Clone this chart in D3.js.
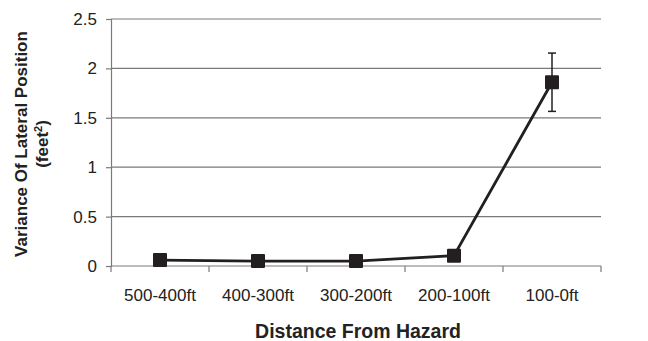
<!DOCTYPE html>
<html>
<head>
<meta charset="utf-8">
<script src="https://d3js.org/d3.v7.min.js"></script>
<style>
  body { margin: 0; background: #fff; font-family: "Liberation Sans", Arial, sans-serif; }
</style>
</head>
<body>
<div id="chart"></div>
<script>
const categories = ["500-400ft", "400-300ft", "300-200ft", "200-100ft", "100-0ft"]
const variance = [0.06, 0.05, 0.05, 0.105, 1.86]
const errors = [0.01, 0.01, 0.01, 0.02, 0.295]
const yTicks = [0, 0.5, 1, 1.5, 2, 2.5]

const w = 648, h = 341
const padding = { top: 19, right: 47, bottom: 75, left: 111 }

const svg = d3.select("#chart").append("svg")
    .attr("width", w)
    .attr("height", h)

const xScale = d3.scaleBand()
    .domain(categories)
    .range([padding.left, w - padding.right])

const yScale = d3.scaleLinear()
    .domain([0, 2.5])
    .range([h - padding.bottom, padding.top])

// gridlines
svg.append("g")
    .selectAll("line")
    .data(yTicks.slice(1))
    .enter()
    .append("line")
    .attr("x1", padding.left)
    .attr("x2", w - padding.right)
    .attr("y1", d => yScale(d))
    .attr("y2", d => yScale(d))
    .attr("stroke", "#7a7a7a")
    .attr("stroke-width", 1.2)

const yAxis = d3.axisLeft(yScale)
    .tickValues(yTicks)
    .tickFormat(d => String(d))
    .tickSize(5)
    .tickPadding(9)

const gy = svg.append("g")
    .attr("transform", "translate(" + padding.left + ",0)")
    .call(yAxis)
gy.select(".domain").attr("stroke", "#7a7a7a").attr("stroke-width", 1.2)
gy.selectAll(".tick line").attr("stroke", "#7a7a7a").attr("stroke-width", 1.2)
gy.selectAll("text").attr("font-size", 17).attr("fill", "#222")
    .attr("font-family", "Liberation Sans, Arial, sans-serif")

// x axis with ticks between categories
const xEdges = categories.map(c => xScale(c)).concat([w - padding.right])
const gx = svg.append("g")
gx.append("line")
    .attr("x1", padding.left).attr("x2", w - padding.right)
    .attr("y1", yScale(0)).attr("y2", yScale(0))
    .attr("stroke", "#7a7a7a").attr("stroke-width", 1.2)
gx.selectAll(".xt")
    .data(xEdges)
    .enter()
    .append("line")
    .attr("x1", d => d).attr("x2", d => d)
    .attr("y1", yScale(0)).attr("y2", yScale(0) + 6)
    .attr("stroke", "#7a7a7a").attr("stroke-width", 1.2)
gx.selectAll("text")
    .data(categories)
    .enter()
    .append("text")
    .attr("x", d => xScale(d) + xScale.bandwidth() / 2)
    .attr("y", 301)
    .attr("text-anchor", "middle")
    .attr("font-size", 17)
    .attr("fill", "#222")
    .text(d => d)

// line
const line = d3.line()
    .x((d, i) => xScale(categories[i]) + xScale.bandwidth() / 2)
    .y(d => yScale(d))

svg.append("path")
    .datum(variance)
    .attr("d", line)
    .attr("fill", "none")
    .attr("stroke", "#231f20")
    .attr("stroke-width", 2.8)

// error bars
const eb = svg.append("g")
variance.forEach((v, i) => {
    const cx = xScale(categories[i]) + xScale.bandwidth() / 2
    const g = eb.append("g").attr("stroke", "#231f20").attr("stroke-width", 1.5)
    g.append("line").attr("x1", cx).attr("x2", cx)
        .attr("y1", yScale(v - errors[i])).attr("y2", yScale(v + errors[i]))
    g.append("line").attr("x1", cx - 4).attr("x2", cx + 4)
        .attr("y1", yScale(v + errors[i])).attr("y2", yScale(v + errors[i]))
    g.append("line").attr("x1", cx - 4).attr("x2", cx + 4)
        .attr("y1", yScale(v - errors[i])).attr("y2", yScale(v - errors[i]))
})

// markers
svg.selectAll(".marker")
    .data(variance)
    .enter()
    .append("rect")
    .attr("class", "marker")
    .attr("x", (d, i) => xScale(categories[i]) + xScale.bandwidth() / 2 - 7)
    .attr("y", d => yScale(d) - 7)
    .attr("width", 14)
    .attr("height", 14)
    .attr("rx", 1)
    .attr("fill", "#231f20")

// axis titles
svg.append("text")
    .attr("x", 358)
    .attr("y", 338)
    .attr("text-anchor", "middle")
    .attr("font-size", 19.5)
    .attr("font-weight", "bold")
    .attr("fill", "#222")
    .text("Distance From Hazard")

const yt = svg.append("text")
    .attr("transform", "translate(27," + 144 + ") rotate(-90)")
    .attr("text-anchor", "middle")
    .attr("font-size", 17)
    .attr("font-weight", "bold")
    .attr("fill", "#222")
yt.append("tspan").attr("x", 0).attr("dy", 0).text("Variance Of Lateral Position")
const t2 = yt.append("tspan").attr("x", 0).attr("dy", 21)
t2.append("tspan").text("(feet")
t2.append("tspan").attr("font-size", 11).attr("dy", -6).text("2")
t2.append("tspan").attr("dy", 6).text(")")
</script>
</body>
</html>
